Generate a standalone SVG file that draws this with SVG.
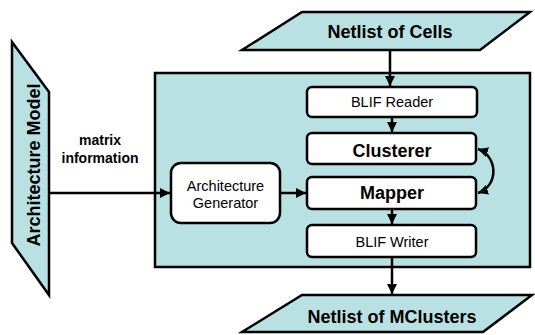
<svg xmlns="http://www.w3.org/2000/svg" width="535" height="335" viewBox="0 0 535 335">
  <style>
    .io { fill: #b9e0e2; stroke: #000; stroke-width: 2.5; stroke-linejoin: miter; }
    .frame { fill: #b9e0e2; stroke: #000; stroke-width: 2.5; }
    .box { fill: #fff; stroke: #000; stroke-width: 2.5; }
    .t { font-family: "Liberation Sans", Arial, sans-serif; fill: #000; text-anchor: middle; }
    .big { font-size: 18px; font-weight: bold; }
    .mid { font-size: 18px; font-weight: bold; }
    .sm { font-size: 14.5px; }
    .lbl { font-size: 14px; font-weight: bold; }
    .wire { fill: none; stroke: #000; stroke-width: 2.5; }
  </style>
  <defs>
    <marker id="arrow" viewBox="0 0 10 10" refX="10" refY="5" markerWidth="4" markerHeight="4" markerUnits="strokeWidth" orient="auto-start-reverse">
      <path d="M0,0 L10,5 L0,10 z" fill="#000"/>
    </marker>
  </defs>

  <!-- main tool frame -->
  <g id="frame">
    <rect class="frame" x="155" y="73" width="375" height="194"/>
  </g>

  <g id="netlist-cells">
    <polygon class="io" points="302,12 530,12 480,50 242,50"/>
    <text class="t big" x="390" y="38">Netlist of Cells</text>
  </g>

  <g id="netlist-mclusters">
    <polygon class="io" points="302,295 532,295 483,332 242,332"/>
    <text class="t big" x="392" y="323">Netlist of MClusters</text>
  </g>

  <g id="architecture-model">
    <polygon class="io" points="12,42 49,92 49,295 12,243"/>
    <text class="t big" x="0" y="0" transform="translate(40,165) rotate(-90)">Architecture Model</text>
  </g>

  <g id="blif-reader">
    <rect class="box" x="307" y="87" width="170" height="30" rx="5"/>
    <text class="t sm" x="392" y="107">BLIF Reader</text>
  </g>

  <g id="clusterer">
    <rect class="box" x="307" y="133" width="169" height="31" rx="5"/>
    <text class="t mid" x="392" y="157">Clusterer</text>
  </g>

  <g id="mapper">
    <rect class="box" x="307" y="177" width="169" height="32" rx="5"/>
    <text class="t mid" x="392" y="199">Mapper</text>
  </g>

  <g id="blif-writer">
    <rect class="box" x="307" y="225" width="169" height="32" rx="5"/>
    <text class="t sm" x="392" y="247">BLIF Writer</text>
  </g>

  <g id="architecture-generator">
    <rect class="box" x="171" y="163" width="109" height="60" rx="10"/>
    <text class="t sm" x="225.5" y="191">Architecture</text>
    <text class="t sm" x="225.5" y="208">Generator</text>
  </g>

  <g id="connectors">
    <line class="wire" x1="390" y1="50" x2="390" y2="86" marker-end="url(#arrow)"/>
    <line class="wire" x1="392" y1="117" x2="392" y2="132" marker-end="url(#arrow)"/>
    <line class="wire" x1="392" y1="209" x2="392" y2="224" marker-end="url(#arrow)"/>
    <line class="wire" x1="392" y1="257" x2="392" y2="294" marker-end="url(#arrow)"/>
    <line class="wire" x1="280" y1="193" x2="306" y2="193" marker-end="url(#arrow)"/>
    <line class="wire" x1="49" y1="193" x2="170" y2="193" marker-end="url(#arrow)"/>
    <path class="wire" d="M478,149 C498,156 499,186 478,193" marker-start="url(#arrow)" marker-end="url(#arrow)"/>
    <text class="t lbl" x="100" y="145">matrix</text>
    <text class="t lbl" x="100" y="163">information</text>
  </g>
</svg>
